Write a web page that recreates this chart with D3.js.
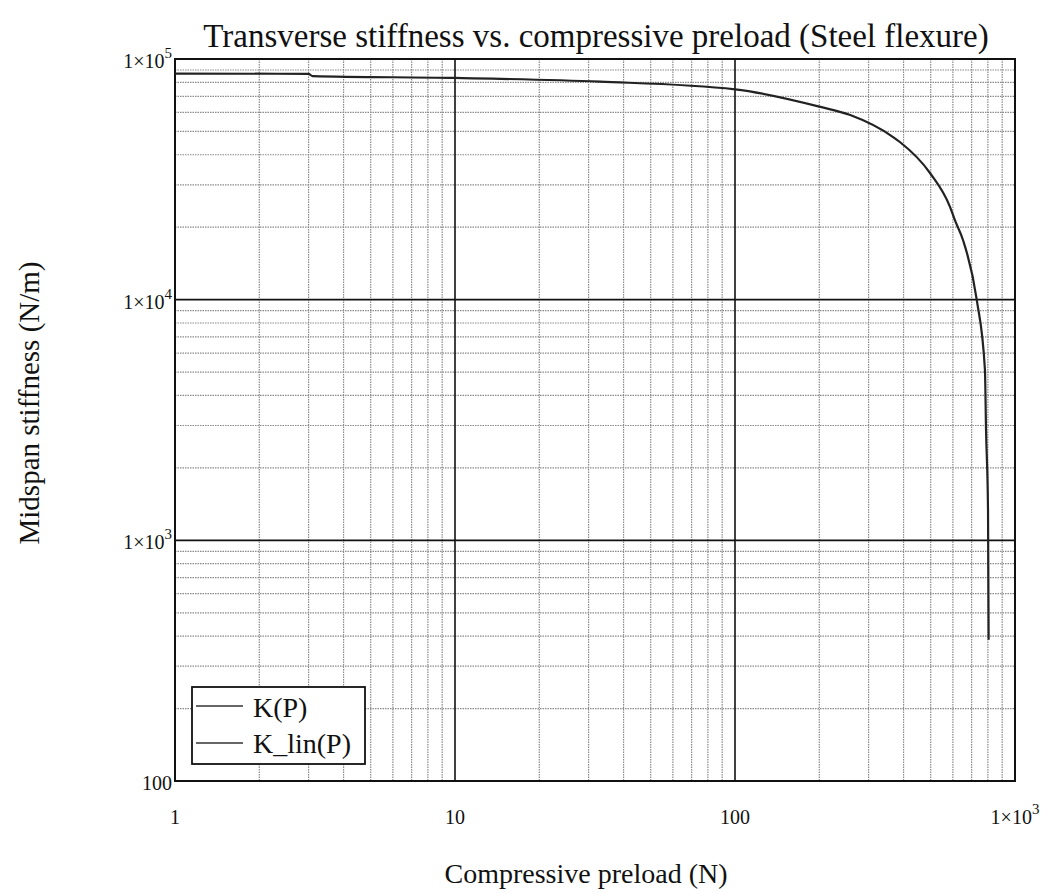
<!DOCTYPE html>
<html>
<head>
<meta charset="utf-8">
<script src="https://cdn.jsdelivr.net/npm/d3@7"></script>
<style>
  body { margin: 0; background: #fff; }
  svg { display: block; font-family: "Liberation Serif", "DejaVu Serif", serif; }
</style>
</head>
<body>
<svg id="chart" width="1049" height="893"></svg>
<script>
// values (log-log)
const preload = [1, 3, 3.1, 10, 33, 100, 200, 258, 367, 388, 497, 586, 610, 652, 730, 781, 788, 801, 805];
const stiffness = [87000, 86700, 84900, 83400, 80500, 74800, 63400, 58500, 47400, 45200, 33600, 24300, 21400, 17700, 10000, 5100, 2880, 1340, 386];
const xTicks = [1, 10, 100, 1000];
const xTickLabels = ['1', '10', '100', '1×10^3'];
const yTicks = [100, 1000, 10000, 100000];
const yTickLabels = ['100', '1×10^3', '1×10^4', '1×10^5'];
const legendNames = ['K(P)', 'K_lin(P)'];

const margin = { left: 175, right: 34, top: 59, bottom: 112 }
const size = { width: 1049, height: 893 }
const svg = d3.select('#chart')

const x = d3.scaleLog()
    .domain([1, 1000])
    .range([margin.left, size.width - margin.right]);

const y = d3.scaleLog()
    .domain([100, 100000])
    .range([size.height - margin.bottom, margin.top]);

const gridColor = '#8a8a8a';

// minor grid (dotted)
const minorX = [], minorY = [];
[1, 10, 100].forEach(d => { for (let k = 2; k <= 9; k++) minorX.push(d * k) });
[100, 1000, 10000].forEach(d => { for (let k = 2; k <= 9; k++) minorY.push(d * k) });

svg.append('g').selectAll('line')
    .data(minorX)
    .enter().append('line')
    .attr('x1', d => x(d)).attr('x2', d => x(d))
    .attr('y1', margin.top).attr('y2', size.height - margin.bottom)
    .attr('stroke', gridColor).attr('stroke-width', 1.2)
    .attr('stroke-dasharray', '1.5,1');

svg.append('g').selectAll('line')
    .data(minorY)
    .enter().append('line')
    .attr('y1', d => y(d)).attr('y2', d => y(d))
    .attr('x1', margin.left).attr('x2', size.width - margin.right)
    .attr('stroke', gridColor).attr('stroke-width', 1.2)
    .attr('stroke-dasharray', '1.5,1');

// major grid (solid)
svg.append('g').selectAll('line')
    .data(xTicks)
    .enter().append('line')
    .attr('x1', d => x(d)).attr('x2', d => x(d))
    .attr('y1', margin.top).attr('y2', size.height - margin.bottom)
    .attr('stroke', '#111').attr('stroke-width', 1.6);

svg.append('g').selectAll('line')
    .data(yTicks)
    .enter().append('line')
    .attr('y1', d => y(d)).attr('y2', d => y(d))
    .attr('x1', margin.left).attr('x2', size.width - margin.right)
    .attr('stroke', '#111').attr('stroke-width', 1.6);

// frame
svg.append('rect')
    .attr('x', margin.left).attr('y', margin.top)
    .attr('width', size.width - margin.right - margin.left)
    .attr('height', size.height - margin.bottom - margin.top)
    .attr('fill', 'none').attr('stroke', '#111').attr('stroke-width', 2);

// curve
const pts = preload.map((p, i) => [p, stiffness[i]]);
svg.append('path')
    .datum(pts)
    .attr('d', d3.line().x(d => x(d[0])).y(d => y(d[1])).curve(d3.curveMonotoneX))
    .attr('fill', 'none')
    .attr('stroke', '#222')
    .attr('stroke-width', 2.2);

// tick labels with superscripts
function tickText(sel, label) {
    const parts = label.split('^');
    sel.append('tspan').text(parts[0]);
    if (parts[1]) sel.append('tspan').attr('dy', -10).attr('font-size', 15).text(parts[1]);
}

svg.append('g').selectAll('text')
    .data(xTicks)
    .enter().append('text')
    .attr('x', d => x(d))
    .attr('y', size.height - margin.bottom + 43)
    .attr('text-anchor', 'middle')
    .attr('font-size', 20)
    .attr('fill', '#111')
    .each(function (d, i) { tickText(d3.select(this), xTickLabels[i]) });

svg.append('g').selectAll('text')
    .data(yTicks)
    .enter().append('text')
    .attr('x', margin.left - 3)
    .attr('y', d => y(d) + 9)
    .attr('text-anchor', 'end')
    .attr('font-size', 20)
    .attr('fill', '#111')
    .each(function (d, i) { tickText(d3.select(this), yTickLabels[i]) });

// titles
svg.append('text')
    .attr('x', 596).attr('y', 47)
    .attr('text-anchor', 'middle')
    .attr('font-size', 33)
    .attr('fill', '#111')
    .text('Transverse stiffness vs. compressive preload (Steel flexure)');

svg.append('text')
    .attr('x', 586).attr('y', 883)
    .attr('text-anchor', 'middle')
    .attr('font-size', 28)
    .attr('fill', '#111')
    .text('Compressive preload (N)');

svg.append('text')
    .attr('transform', 'translate(39, 403) rotate(-90)')
    .attr('text-anchor', 'middle')
    .attr('font-size', 29)
    .attr('fill', '#111')
    .text('Midspan stiffness (N/m)');

// legend
const legend = svg.append('g').attr('transform', 'translate(192, 687)');
legend.append('rect')
    .attr('width', 173).attr('height', 77)
    .attr('fill', '#fff').attr('stroke', '#111').attr('stroke-width', 1.8);

legend.selectAll('line')
    .data(legendNames)
    .enter().append('line')
    .attr('x1', 4).attr('x2', 51)
    .attr('y1', (d, i) => 19 + i * 37).attr('y2', (d, i) => 19 + i * 37)
    .attr('stroke', '#333').attr('stroke-width', 1.5);

legend.selectAll('text')
    .data(legendNames)
    .enter().append('text')
    .attr('x', 61)
    .attr('y', (d, i) => 30 + i * 36)
    .attr('font-size', 28)
    .attr('fill', '#111')
    .text(d => d);
</script>
</body>
</html>
